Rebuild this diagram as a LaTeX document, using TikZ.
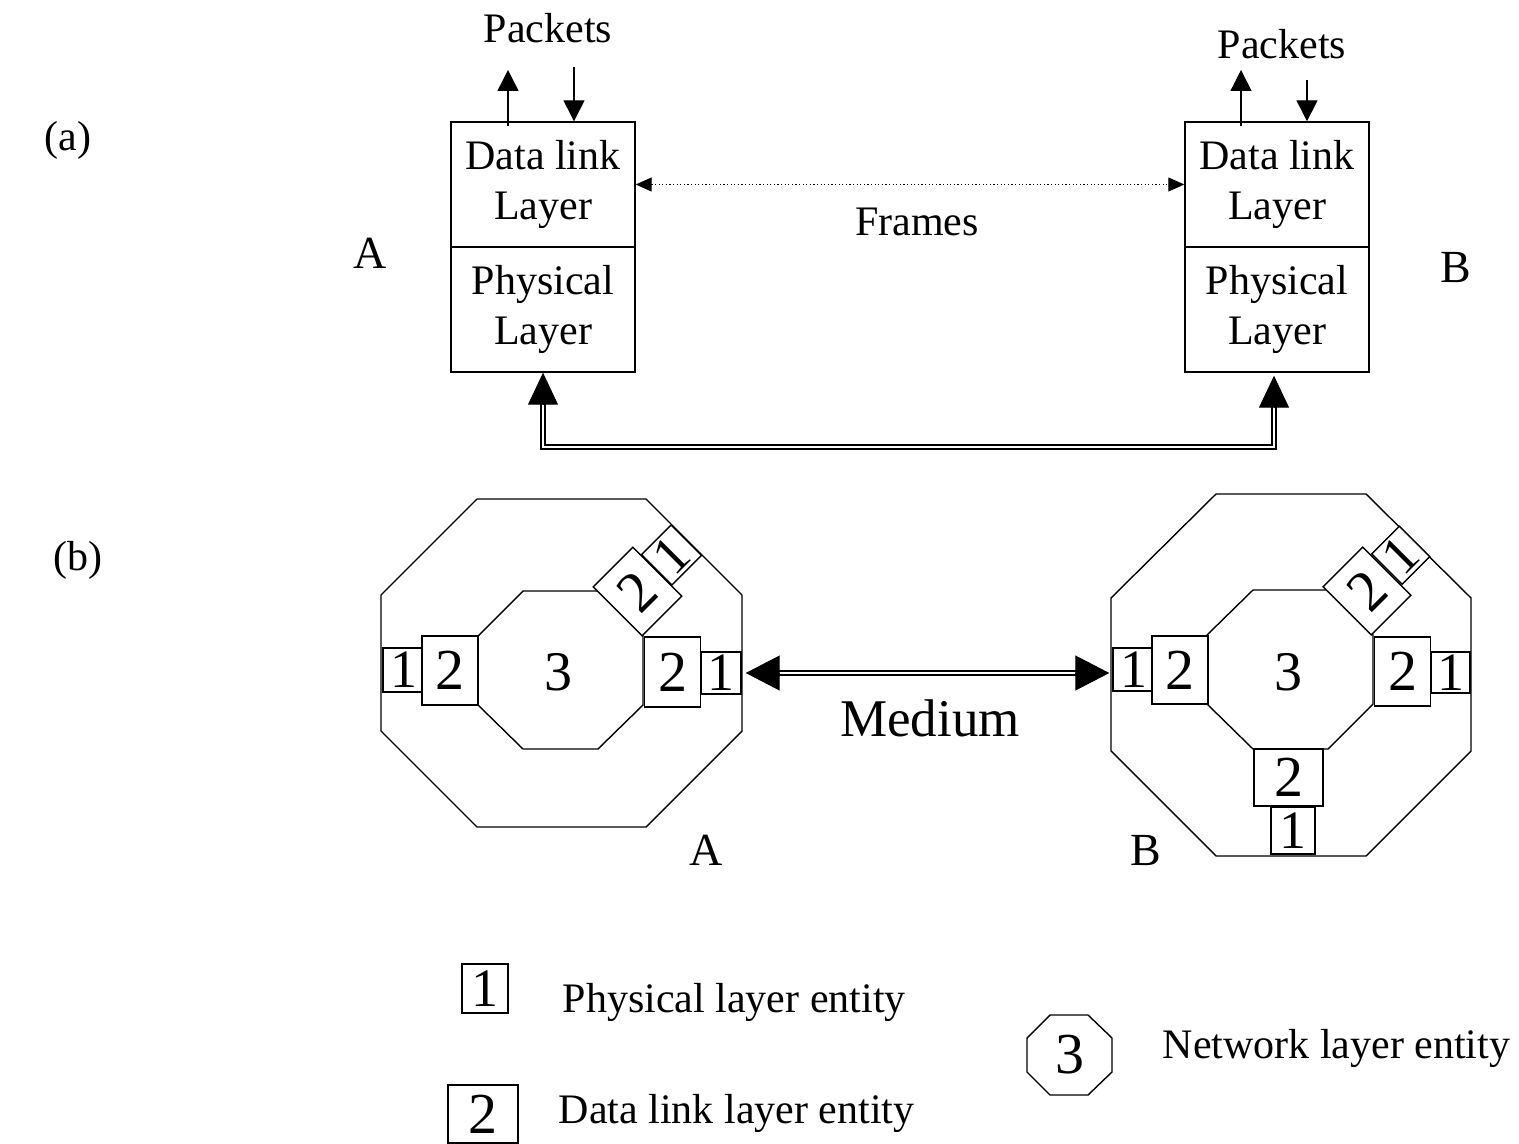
\documentclass[tikz,border=0pt]{standalone}
\usepackage{fontspec}
\setmainfont{Liberation Serif}
\usetikzlibrary{arrows.meta}
\newcommand{\txtfont}{\fontsize{21}{25}\selectfont}
\newcommand{\digfont}{\fontsize{29}{30}\selectfont}
\newcommand{\onefont}{\fontsize{27}{28}\selectfont}
\newcommand{\netfont}{\fontsize{28}{30}\selectfont}
\newcommand{\capfont}{\fontsize{23}{26}\selectfont}
\newcommand{\medfont}{\fontsize{26.5}{30}\selectfont}

\begin{document}
\begin{tikzpicture}[x=0.5pt,y=-0.5pt,line width=0.7pt,
  layerbox/.style={draw, inner sep=0pt, minimum width=92pt, minimum height=62.5pt, align=center, font=\txtfont},
  ent/.style={draw, fill=white, inner sep=0pt, font=\digfont},
  phy/.style={ent, minimum width=20pt, minimum height=22pt, font=\onefont},
  dll/.style={ent, minimum width=28pt, minimum height=34.5pt},
  lbl/.style={font=\txtfont, inner sep=0pt},
  caplbl/.style={font=\capfont, inner sep=0pt},
  pkt/.style={-{Triangle[length=10.5pt,width=10.5pt]}},
  framearrow/.style={{Triangle[length=8pt,width=7pt]}-{Triangle[length=8pt,width=7pt]}, line width=0.6pt, dash pattern=on 0.6pt off 1.2pt},
  dbl/.style={double, double distance=1.4pt, line width=0.9pt},
  phtip/.style={-{Triangle[length=16pt,width=15pt]}, line width=0.5pt},
  medtip/.style={-{Triangle[length=17pt,width=17.5pt]}, line width=0.5pt}]

\useasboundingbox (0,0) rectangle (1519,1144);

% (a) layers
\node[lbl] (lbla) at (68,140) {(a)};
\node[layerbox] (dlA) at (543,184.5) {Data link\\Layer};
\node[layerbox] (phA) at (543,309.5) {Physical\\Layer};
\node[layerbox] (dlB) at (1277,184.5) {Data link\\Layer};
\node[layerbox] (phB) at (1277,309.5) {Physical\\Layer};
\node[caplbl] (hostA) at (370,253) {A};
\node[caplbl] (hostB) at (1456,268) {B};

\node[lbl, anchor=base] (pktA) at (548,43) {Packets};
\node[lbl, anchor=base] (pktB) at (1282,59) {Packets};
\coordinate (pkA1) at (508,70);
\coordinate (pkA2) at (574,67);
\coordinate (pkB1) at (1241,70);
\coordinate (pkB2) at (1307,80);
\draw[pkt] ([yshift=-2.5pt]pkA1 |- dlA.north) -- (pkA1);
\draw[pkt] (pkA2) -- (pkA2 |- dlA.north);
\draw[pkt] ([yshift=-2.5pt]pkB1 |- dlB.north) -- (pkB1);
\draw[pkt] (pkB2) -- (pkB2 |- dlB.north);

\draw[framearrow] (dlA.east) -- (dlB.west);
\node[lbl] (frames) at (917,222) {Frames};

% physical link
\coordinate (tipB) at ([shift={(-1.5pt,-1.5pt)}]phB.south);
\coordinate (baseA) at ([yshift=-16pt]phA.south);
\coordinate (baseB) at ([yshift=-16pt]tipB);
\coordinate (bus) at (900,447);
\draw[dbl] ([yshift=2pt]baseA) -- (baseA |- bus) -| ([yshift=2pt]baseB);
\draw[phtip] (baseA) -- (phA.south);
\draw[phtip] (baseB) -- (tipB);

% (b) hosts
\node[lbl] (lblb) at (78,560) {(b)};

% host A
\draw (477,499) -- (646,499) -- (742,595) -- (742,731) -- (646,827) -- (477,827) -- (381,731) -- (381,595) -- cycle;
\draw (523,591) -- (598,591) -- (643,636) -- (643,705) -- (598,749) -- (523,749) -- (478,705) -- (478,636) -- cycle;
\node[font=\netfont] (a3) at (558,672) {3};
\node[phy, minimum width=20.5pt] (a1l) at (403.5,670) {1};
\node[dll] (a2l) at (450,670.5) {2};
\node[dll, minimum height=35pt] (a2r) at (672.5,672) {2};
\node[phy, minimum height=21pt] (a1r) at (721,673) {1};
\node[dll, rotate=45] (a2d) at (637.5,591.5) {2};
\node[phy, minimum width=21pt, minimum height=21.5pt, rotate=45] (a1d) at (671.5,555) {1};
\node[caplbl] (nameA) at (706,850) {A};

% host B
\draw (1216,494) -- (1366,494) -- (1471,598) -- (1471,751) -- (1366,856) -- (1216,856) -- (1111,751) -- (1111,598) -- cycle;
\draw (1253,590) -- (1327,590) -- (1373,635) -- (1373,704) -- (1328,749) -- (1253,749) -- (1207,704) -- (1207,635) -- cycle;
\node[font=\netfont] (b3) at (1288,672) {3};
\node[phy, minimum width=20.5pt, minimum height=21.5pt] (b1l) at (1133.5,669.5) {1};
\node[dll, minimum height=34pt] (b2l) at (1180,670) {2};
\node[dll] (b2r) at (1402.5,671.5) {2};
\node[phy, minimum width=19.5pt, minimum height=20.5pt] (b1r) at (1450.5,672.5) {1};
\node[dll, minimum height=34pt, rotate=45] (b2d) at (1367,591) {2};
\node[phy, minimum width=19.5pt, minimum height=21.5pt, rotate=45] (b1d) at (1400.75,555.25) {1};
\node[dll, minimum width=34.5pt, minimum height=28.5pt] (b2b) at (1288.5,777.5) {2};
\node[phy, minimum width=22pt, minimum height=23.5pt] (b1b) at (1293,830.5) {1};
\node[caplbl] (nameB) at (1146,850) {B};

% medium
\coordinate (mL) at ([xshift=2pt]a1r.east);
\coordinate (mR) at ([xshift=-1.5pt]b1l.west |- mL);
\draw[dbl] ([xshift=15pt]mL) -- ([xshift=-15pt]mR);
\draw[medtip] ([xshift=17pt]mL) -- (mL);
\draw[medtip] ([xshift=-17pt]mR) -- (mR);
\node[font=\medfont, inner sep=0pt] (medium) at (930,718) {Medium};

% legend
\node[phy, minimum width=23pt, minimum height=24.5pt] (lg1) at (485,988.5) {1};
\node[lbl, anchor=base west] (lg1txt) at (562,1012) {Physical layer entity};
\node[dll, minimum width=35pt, minimum height=29pt] (lg2) at (483,1114) {2};
\node[lbl, anchor=base west] (lg2txt) at (558,1123) {Data link layer entity};
\draw (1050,1015) -- (1088,1015) -- (1112,1038) -- (1112,1072) -- (1088,1095) -- (1050,1095) -- (1027,1072) -- (1027,1038) -- cycle;
\node[font=\digfont] (lg3) at (1070,1055) {3};
\node[lbl, anchor=base west] (lg3txt) at (1162,1058) {Network layer entity};

\end{tikzpicture}
\end{document}
